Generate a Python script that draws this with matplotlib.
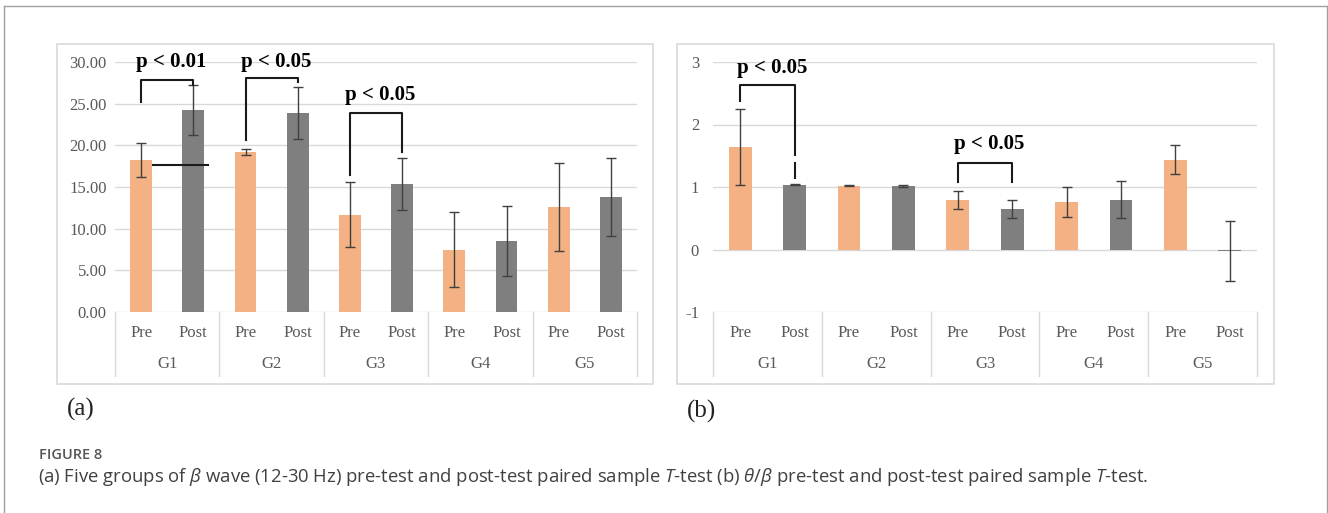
import matplotlib.pyplot as plt
from matplotlib.patches import Rectangle
from matplotlib.lines import Line2D

W, H = 1328, 513

groups = ['G1', 'G2', 'G3', 'G4', 'G5']
phases = ['Pre', 'Post']

# (a) beta wave
beta_pre = [18.25, 19.25, 11.7, 7.5, 12.6]
beta_pre_err = [2.0, 0.35, 3.9, 4.5, 5.3]
beta_post = [24.25, 23.85, 15.35, 8.5, 13.8]
beta_post_err = [3.0, 3.1, 3.15, 4.2, 4.7]

# (b) theta/beta ratio
ratio_pre = [1.64, 1.02, 0.79, 0.76, 1.44]
ratio_pre_err = [0.61, 0.005, 0.145, 0.235, 0.225]
ratio_post = [1.04, 1.02, 0.65, 0.80, -0.03]
ratio_post_err = [0.01, 0.015, 0.15, 0.29, 0.48]

# significance brackets: (x left, x right, left foot, top, right foot, label, label y)
beta_brackets = [(0, 1, 25.2, 27.8, 27.2, 'p < 0.01', 29.45),
                 (2, 3, 20.6, 28.1, 27.6, 'p < 0.05', 29.45),
                 (4, 5, 16.4, 23.9, 19.2, 'p < 0.05', 25.45)]
ratio_brackets = [(0, 1, 2.37, 2.63, 1.51, 'p < 0.05', 2.83),
                  (4, 5, 1.08, 1.38, 1.08, 'p < 0.05', 1.60)]

ORANGE = '#F4B183'
GREY = '#7F7F7F'
GRID = '#D9D9D9'
SERIF = 'Liberation Serif'

fig = plt.figure(figsize=(W / 100, H / 100), dpi=100)


def fx(px):
    return px / W


def fy(py):
    return 1 - py / H


# outer frame
fig.add_artist(Line2D([fx(4), fx(4)], [0, fy(6)], color='#A0A0A0', lw=1))
fig.add_artist(Line2D([fx(4), fx(1327)], [fy(6), fy(6)], color='#A0A0A0', lw=1))
fig.add_artist(Line2D([fx(1327), fx(1327)], [0, fy(6)], color='#A0A0A0', lw=1))

# panel boxes
for x0, x1 in [(57, 653), (677, 1274)]:
    fig.add_artist(Rectangle((fx(x0), fy(384)), fx(x1 - x0), (384 - 44) / H,
                             fill=False, ec=GRID, lw=1.2))


def panel(left, right, ylim, yticks, fmt, pre, pre_err, post, post_err, brackets, pad):
    ax = fig.add_axes([fx(left), fy(312), fx(right - left), 250 / H])
    pos_pre = [2 * i for i in range(len(groups))]
    pos_post = [2 * i + 1 for i in range(len(groups))]
    ekw = dict(ecolor='#404040', elinewidth=1, capsize=3.5, capthick=1)
    ax.bar(pos_pre, pre, width=0.42, color=ORANGE, yerr=pre_err, error_kw=ekw, zorder=3)
    ax.bar(pos_post, post, width=0.42, color=GREY, yerr=post_err, error_kw=ekw, zorder=3)
    ax.set_xlim(-0.5, 2 * len(groups) - 0.5)
    ax.set_ylim(*ylim)
    ax.set_yticks(yticks)
    ax.set_yticklabels([fmt.format(v) for v in yticks], fontfamily=SERIF,
                       fontsize=12, color='#595959')
    ax.tick_params(axis='y', length=0, pad=pad)
    ax.set_xticks([])
    for s in ax.spines.values():
        s.set_visible(False)
    for v in yticks:
        ax.axhline(v, color=GRID, lw=1, zorder=1)

    # category table under the plot
    tr = ax.get_xaxis_transform()
    for xb in [-0.5 + 2 * i for i in range(len(groups) + 1)]:
        ax.plot([xb, xb], [0, -0.256], transform=tr, color=GRID, lw=1, clip_on=False)
    for i, g in enumerate(groups):
        for j, ph in enumerate(phases):
            ax.text(2 * i + j, -0.084, ph, transform=tr, ha='center', va='center',
                    fontfamily=SERIF, fontsize=12, color='#595959')
        ax.text(2 * i + 0.5, -0.21, g, transform=tr, ha='center', va='center',
                fontfamily=SERIF, fontsize=12, color='#595959')

    for xl, xr, yl, yt, yr, lab, ly in brackets:
        ax.plot([xl, xl, xr, xr], [yl, yt, yt, yr], color='#1A1A1A', lw=1.5,
                clip_on=False, zorder=4)
        ax.text((xl + xr) / 2 + 0.08, ly, lab, ha='center', va='baseline',
                fontfamily=SERIF, fontweight='bold', fontsize=15, color='black',
                clip_on=False, zorder=5)
    return ax


ax_a = panel(115, 637, (0, 30), [0, 5, 10, 15, 20, 25, 30], '{:.2f}',
             beta_pre, beta_pre_err, beta_post, beta_post_err, beta_brackets, 6)
# stray horizontal stroke next to G1
ax_a.plot([0.23, 1.28], [17.6, 17.6], color='#1A1A1A', lw=1.5, zorder=4)

ax_b = panel(713, 1257, (-1, 3), [-1, 0, 1, 2, 3], '{:d}',
             ratio_pre, ratio_pre_err, ratio_post, ratio_post_err, ratio_brackets, 10)
# broken lower part of the first bracket's right leg
ax_b.plot([1, 1], [1.14, 1.38], color='#1A1A1A', lw=1.5, zorder=4)

fig.text(fx(67), fy(409), '(a)', fontfamily=SERIF, fontsize=18, va='center', color='#222222')
fig.text(fx(687), fy(411), '(b)', fontfamily=SERIF, fontsize=18, va='center', color='#222222')

plt.rcParams['mathtext.fontset'] = 'custom'
plt.rcParams['mathtext.rm'] = 'Open Sans'
plt.rcParams['mathtext.it'] = 'Open Sans:italic'
fig.text(fx(39), fy(455), 'FIGURE 8', fontfamily='Open Sans', fontweight='semibold',
         fontsize=10.5, color='#555555', va='center')
fig.text(fx(38), fy(477),
         r'(a) Five groups of $\beta$ wave (12-30 Hz) pre-test and post-test paired sample $T$-test '
         r'(b) $\theta/\beta$ pre-test and post-test paired sample $T$-test.',
         fontfamily='Open Sans', fontsize=13.3, color='#404040', va='center')

fig.savefig('out.png', dpi=100)
